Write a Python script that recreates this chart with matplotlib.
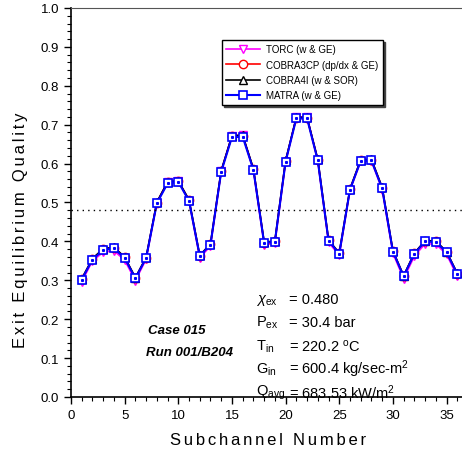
import matplotlib
matplotlib.use('Agg')
import matplotlib.pyplot as plt
from matplotlib.ticker import MultipleLocator

plt.rcParams['font.family'] = ['Liberation Sans', 'DejaVu Sans']
plt.rcParams['mathtext.fontset'] = 'custom'
plt.rcParams['mathtext.rm'] = 'Liberation Sans'
plt.rcParams['mathtext.it'] = 'Liberation Sans:italic'

channels = list(range(1, 37))

matra = [0.302, 0.353, 0.378, 0.382, 0.357, 0.305, 0.357, 0.498, 0.549, 0.553,
         0.504, 0.362, 0.392, 0.579, 0.668, 0.669, 0.584, 0.396, 0.399, 0.605,
         0.716, 0.716, 0.608, 0.402, 0.368, 0.533, 0.607, 0.608, 0.536, 0.374,
         0.310, 0.368, 0.400, 0.398, 0.372, 0.316]
cobra4i = [0.304, 0.356, 0.381, 0.385, 0.360, 0.307, 0.359, 0.501, 0.553, 0.556,
           0.507, 0.364, 0.394, 0.582, 0.672, 0.673, 0.587, 0.398, 0.401, 0.608,
           0.719, 0.719, 0.611, 0.404, 0.370, 0.535, 0.610, 0.611, 0.539, 0.376,
           0.312, 0.370, 0.402, 0.401, 0.374, 0.318]
cobra3cp = [0.303, 0.355, 0.380, 0.384, 0.359, 0.306, 0.358, 0.500, 0.552, 0.555,
            0.506, 0.363, 0.393, 0.581, 0.671, 0.672, 0.586, 0.397, 0.400, 0.607,
            0.718, 0.718, 0.610, 0.403, 0.369, 0.534, 0.609, 0.610, 0.538, 0.375,
            0.311, 0.369, 0.401, 0.400, 0.373, 0.317]
torc = [0.296, 0.350, 0.372, 0.376, 0.352, 0.299, 0.354, 0.499, 0.552, 0.556,
        0.503, 0.358, 0.388, 0.580, 0.672, 0.673, 0.583, 0.392, 0.395, 0.604,
        0.720, 0.720, 0.607, 0.398, 0.364, 0.532, 0.606, 0.607, 0.533, 0.370,
        0.304, 0.362, 0.394, 0.393, 0.367, 0.310]

chi_ex = 0.480
conditions = [
    (r'$\chi_{\rm ex}$', '= %.3f' % chi_ex),
    (r'P$_{\rm ex}$', '= 30.4 bar'),
    (r'T$_{\rm in}$', r'= 220.2 $^{\rm o}$C'),
    (r'G$_{\rm in}$', r'= 600.4 kg/sec-m$^{\rm 2}$'),
    (r'Q$_{\rm avg}$', r'= 683.53 kW/m$^{\rm 2}$'),
]


def spaced(s):
    # loose letter spacing like the original axis titles
    return '\u2006'.join(s)


fig = plt.figure(figsize=(4.62, 4.56), dpi=100)
ax = fig.add_axes([71 / 462, 58 / 456, 397 / 462, 389 / 456])

ax.plot(channels, torc, color='magenta', marker='v', mfc='white', mec='magenta',
        ms=6, lw=1.2, label='TORC (w & GE)')
ax.plot(channels, cobra3cp, color='red', marker='o', mfc='white', mec='red',
        ms=6, lw=1.2, label='COBRA3CP (dp/dx & GE)')
ax.plot(channels, cobra4i, color='black', marker='^', mfc='white', mec='black',
        ms=6, lw=1.2, label='COBRA4I (w & SOR)')
ax.plot(channels, matra, color='blue', marker='s', mfc='white', mec='blue',
        ms=6, mew=1.2, lw=1.5, label='MATRA (w & GE)')
ax.plot(channels, matra, ls='none', marker='s', ms=1.2, color='blue')

ax.axhline(chi_ex, color='black', ls=(0, (1, 3)), lw=1.0)

ax.set_xlim(0, 37)
ax.set_ylim(0, 1.0)
ax.xaxis.set_major_locator(MultipleLocator(5))
ax.xaxis.set_minor_locator(MultipleLocator(1))
ax.yaxis.set_major_locator(MultipleLocator(0.1))
ax.yaxis.set_minor_locator(MultipleLocator(0.02))
ax.yaxis.set_major_formatter(plt.FormatStrFormatter('%.1f'))
ax.tick_params(which='major', direction='out', length=5, labelsize=9.5, width=1)
ax.tick_params(which='minor', direction='out', length=3, width=0.8)
ax.spines['right'].set_visible(False)
ax.spines['top'].set_color('#555555')
for s in ['left', 'bottom']:
    ax.spines[s].set_linewidth(1.2)

fig.text(268 / 462, 1 - 441 / 456, spaced('Subchannel Number'), fontsize=12,
         ha='center', va='center')
fig.text(21 / 462, 1 - 230 / 456, spaced('Exit Equilibrium Quality'), fontsize=12,
         rotation=90, ha='center', va='center')

leg = ax.legend(loc='upper left', bbox_to_anchor=(222 / 462, 1 - 41 / 456),
                bbox_transform=fig.transFigure, fontsize=7,
                fancybox=False, edgecolor='black', framealpha=1,
                shadow={'color': '#444444', 'alpha': 1, 'ox': 1.5, 'oy': -1.5},
                handlelength=3.5, handletextpad=0.6, labelspacing=0.55,
                borderpad=0.45, borderaxespad=0)
leg.get_frame().set_linewidth(1.0)

fig.text(148 / 462, 1 - 331 / 456, 'Case 015', fontsize=9.5, weight='bold',
         style='italic', va='center')
fig.text(146 / 462, 1 - 353 / 456, 'Run 001/B204', fontsize=9.5, weight='bold',
         style='italic', va='center')

for i, (sym, val) in enumerate(conditions):
    y = 300 + i * 23.2
    fig.text(256 / 462, 1 - y / 456, sym, fontsize=10.5, va='center')
    fig.text(289 / 462, 1 - y / 456, val, fontsize=10.5, va='center')

plt.savefig('out.png', dpi=100)
